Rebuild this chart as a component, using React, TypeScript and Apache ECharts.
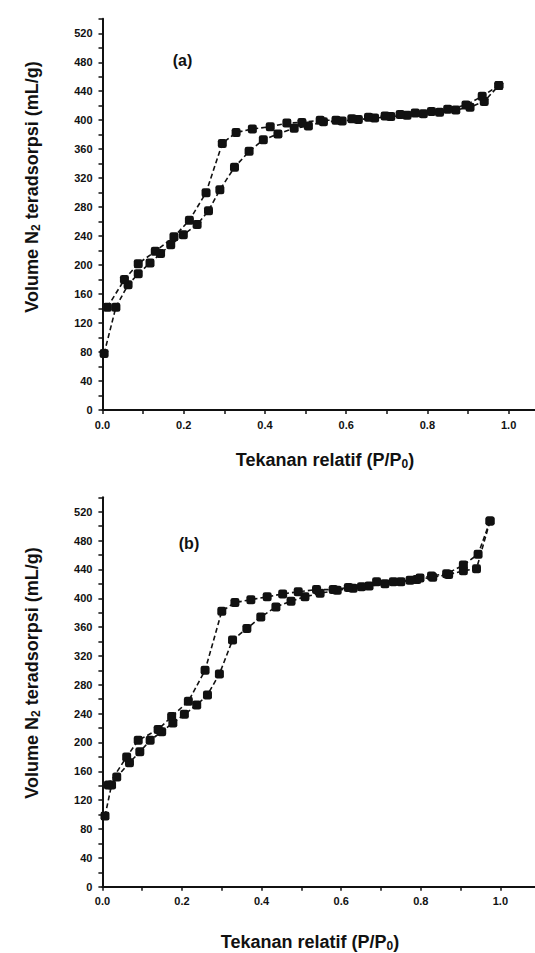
import React, { useEffect, useRef } from "react";
import * as echarts from "echarts";

// ---- Panel (a) ----
const adsA_P = [0.004, 0.033, 0.063, 0.088, 0.117, 0.143, 0.168, 0.199, 0.233, 0.261, 0.289, 0.325, 0.361, 0.396, 0.432, 0.472, 0.507, 0.544, 0.59, 0.63, 0.67, 0.71, 0.75, 0.79, 0.83, 0.87, 0.905, 0.94, 0.976];
const adsA_V = [78, 142, 173, 188, 203, 216, 228, 242, 256, 275, 304, 335, 357, 373, 381, 389, 392, 398, 399, 401, 403, 405, 407, 409, 411, 414, 418, 426, 448];
const desA_P = [0.012, 0.054, 0.088, 0.13, 0.176, 0.214, 0.255, 0.295, 0.329, 0.369, 0.413, 0.454, 0.491, 0.536, 0.575, 0.614, 0.655, 0.696, 0.733, 0.77, 0.81, 0.85, 0.895, 0.935, 0.976];
const desA_V = [142, 180, 202, 219, 239, 262, 300, 368, 383, 388, 391, 396, 397, 400, 400, 402, 404, 406, 408, 410, 412, 415, 421, 433, 448];

// ---- Panel (b) ----
const adsB_P = [0.0065, 0.023, 0.036, 0.068, 0.094, 0.12, 0.149, 0.177, 0.206, 0.237, 0.264, 0.294, 0.327, 0.363, 0.398, 0.436, 0.474, 0.509, 0.547, 0.59, 0.63, 0.67, 0.71, 0.75, 0.79, 0.83, 0.87, 0.907, 0.94, 0.974];
const adsB_V = [98, 141, 152, 172, 187, 203, 215, 227, 239, 252, 266, 295, 342, 358, 374, 388, 396, 402, 407, 411, 414, 417, 420, 423, 426, 429, 433, 438, 441, 507];
const desB_P = [0.015, 0.061, 0.09, 0.14, 0.174, 0.216, 0.258, 0.3, 0.333, 0.373, 0.414, 0.453, 0.492, 0.538, 0.58, 0.618, 0.651, 0.689, 0.731, 0.773, 0.798, 0.827, 0.865, 0.907, 0.944, 0.974];
const desB_V = [141, 180, 203, 218, 236, 257, 300, 382, 394, 398, 402, 406, 409, 412, 412, 415, 416, 423, 423, 425, 428, 431, 434, 446, 461, 507];

const xTickLabels = ["0.0", "0.2", "0.4", "0.6", "0.8", "1.0"];
const yTickLabels = ["0", "40", "80", "120", "160", "200", "240", "280", "320", "360", "400", "440", "480", "520"];

const yTitle = "Volume N{sub|2} teradsorpsi (mL/g)";
const xTitle = "Tekanan relatif (P/P{sub|0})";
const panelLabels = ["(a)", "(b)"];

const FONT = "'Liberation Sans', Arial, Helvetica, sans-serif";
const INK = "#111";

const zip = (xs: number[], ys: number[]) => xs.map((x, i) => [x, ys[i]]);

function xAxisFor(gridIndex: number, max: number) {
  return {
    type: "value",
    gridIndex,
    min: 0,
    max,
    interval: 0.1,
    axisLine: { show: true, onZero: false, lineStyle: { color: INK, width: 2 } },
    axisTick: { show: true, inside: false, length: 4, lineStyle: { color: INK, width: 1.5 } },
    splitLine: { show: false },
    axisLabel: {
      margin: 9,
      color: INK,
      fontFamily: FONT,
      fontWeight: "bold",
      fontSize: 11,
      showMaxLabel: false,
      formatter: (v: number) => {
        const k = Math.round(v * 5);
        if (Math.abs(v * 5 - k) > 1e-6) return "";
        return xTickLabels[k] ?? "";
      },
    },
  };
}

function yAxisFor(gridIndex: number) {
  return {
    type: "value",
    gridIndex,
    min: 0,
    max: 540,
    interval: 20,
    axisLine: { show: true, onZero: false, lineStyle: { color: INK, width: 2 } },
    axisTick: { show: true, inside: false, length: 4, lineStyle: { color: INK, width: 1.5 } },
    splitLine: { show: false },
    axisLabel: {
      margin: 10,
      color: INK,
      fontFamily: FONT,
      fontWeight: "bold",
      fontSize: 11,
      formatter: (v: number) => {
        if (v % 40 !== 0) return "";
        return yTickLabels[v / 40] ?? "";
      },
    },
  };
}

function lineSeries(name: string, data: number[][], idx: number) {
  return {
    type: "line",
    name,
    xAxisIndex: idx,
    yAxisIndex: idx,
    data,
    symbol: "roundRect",
    symbolSize: 9,
    itemStyle: { color: INK },
    lineStyle: { color: INK, width: 1.6, type: [5, 3] },
    z: 3,
  };
}

const titleRich = {
  sub: { fontSize: 12, fontWeight: "bold", fontFamily: FONT, fill: INK, verticalAlign: "bottom", padding: [7, 0, 0, 0] },
};

function titleText(text: string, x: number, y: number, rotation = 0) {
  return {
    type: "text",
    x,
    y,
    rotation,
    style: {
      text,
      fill: INK,
      fontFamily: FONT,
      fontWeight: "bold",
      fontSize: 18,
      align: "center",
      verticalAlign: "middle",
      rich: titleRich,
    },
  };
}

export default function App() {
  const ref = useRef<HTMLDivElement>(null);

  useEffect(() => {
    if (!ref.current) return;
    const chart = echarts.init(ref.current, undefined, { renderer: "svg" });
    const option = {
      animation: false,
      backgroundColor: "#ffffff",
      grid: [
        { left: 102.5, top: 18.8, width: 432.5, height: 391.2 },
        { left: 102.4, top: 497.3, width: 432.6, height: 389.4 },
      ],
      xAxis: [xAxisFor(0, 1.065), xAxisFor(1, 1.087)],
      yAxis: [yAxisFor(0), yAxisFor(1)],
      series: [
        lineSeries("Adsorpsi (a)", zip(adsA_P, adsA_V), 0),
        lineSeries("Desorpsi (a)", zip(desA_P, desA_V), 0),
        lineSeries("Adsorpsi (b)", zip(adsB_P, adsB_V), 1),
        lineSeries("Desorpsi (b)", zip(desB_P, desB_V), 1),
      ],
      graphic: [
        titleText(yTitle, 32, 187, Math.PI / 2),
        titleText(yTitle, 32, 673, Math.PI / 2),
        titleText(xTitle, 325, 460),
        titleText(xTitle, 310, 942),
        {
          type: "text",
          x: 182.5,
          y: 60,
          style: { text: panelLabels[0], fill: INK, fontFamily: FONT, fontWeight: "bold", fontSize: 16, align: "center", verticalAlign: "middle" },
        },
        {
          type: "text",
          x: 189,
          y: 543,
          style: { text: panelLabels[1], fill: INK, fontFamily: FONT, fontWeight: "bold", fontSize: 16, align: "center", verticalAlign: "middle" },
        },
      ],
    };
    chart.setOption(option as any);
    return () => chart.dispose();
  }, []);

  return (
    <div style={{ position: "fixed", left: 0, top: 0, width: 535, height: 953, overflow: "hidden", background: "#fff" }}>
      <div ref={ref} style={{ width: 535, height: 953 }} />
    </div>
  );
}
